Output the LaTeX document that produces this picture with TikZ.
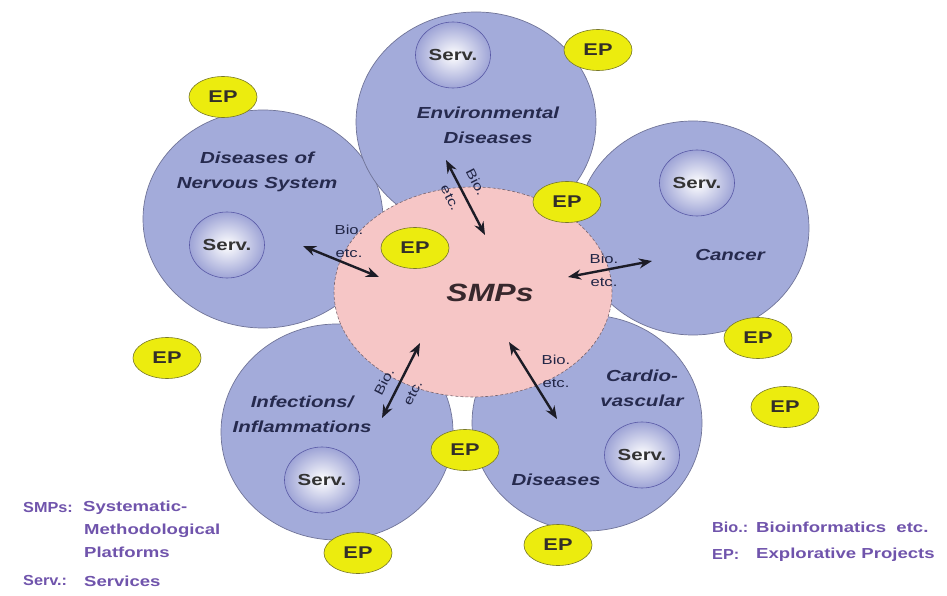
\documentclass[tikz,border=0pt]{standalone}
\usepackage{fontspec}
\setmainfont{Liberation Sans}
\usepackage{graphicx}
\usetikzlibrary{shapes.geometric,arrows.meta}
\definecolor{discol}{RGB}{163,171,218}
\definecolor{disline}{RGB}{112,116,152}
\definecolor{smpcol}{RGB}{246,198,198}
\definecolor{smpline}{RGB}{120,100,110}
\definecolor{epcol}{RGB}{236,236,14}
\definecolor{epline}{RGB}{120,120,40}
\definecolor{navy}{RGB}{38,42,78}
\definecolor{servout}{RGB}{158,164,214}
\definecolor{legcol}{RGB}{112,84,172}
\definecolor{arrcol}{RGB}{28,28,38}
\definecolor{smptext}{RGB}{55,40,45}
\newcommand{\wideT}[1]{\scalebox{1.28}[1]{#1}}
\newcommand{\wideS}[1]{\scalebox{1.12}[1]{#1}}
\begin{document}
\begin{tikzpicture}[x=1pt,y=-1pt,
  disease/.style={ellipse, draw=disline, line width=0.7pt, fill=discol, inner sep=0pt},
  smp/.style={ellipse, draw=smpline, densely dashed, line width=0.6pt, fill=smpcol, inner sep=0pt},
  serv/.style={ellipse, draw=gray!70!blue, line width=0.6pt, inner color=white, outer color=servout,
    minimum width=75pt, minimum height=66pt, inner sep=0pt,
    font=\fontsize{16}{18}\selectfont\bfseries, text=black!80},
  ep/.style={ellipse, draw=epline, line width=0.6pt, fill=epcol, minimum width=68pt, minimum height=41pt,
    inner sep=0pt, font=\fontsize{17}{19}\selectfont\bfseries, text=black!85!olive},
  lbl/.style={font=\fontsize{16}{25}\selectfont\bfseries\itshape, text=navy, align=center},
  bio/.style={font=\fontsize{13}{23}\selectfont, text=navy!90!black, align=center, inner sep=0pt},
  dbl/.style={{Stealth[length=13pt,width=10pt]}-{Stealth[length=13pt,width=10pt]}, line width=2.4pt, draw=arrcol},
  leg/.style={font=\fontsize{14.5}{16}\selectfont\bfseries, text=legcol, anchor=west, inner sep=0pt}
]
\fill[white] (0,0) rectangle (947,596);
\useasboundingbox (0,0) rectangle (947,596);

% disease circles
\node[disease, minimum width=230pt, minimum height=216pt] (card) at (587,423) {};
\node[disease, minimum width=232pt, minimum height=216pt] (inf) at (337,432) {};
\node[disease, minimum width=240pt, minimum height=218pt] (nerv) at (263,219) {};
\node[disease, minimum width=240pt, minimum height=220pt] (env) at (476,122) {};
\node[disease, minimum width=232pt, minimum height=214pt] (canc) at (693,228) {};
% central platform
\node[smp, minimum width=278pt, minimum height=210pt] (smps) at (473,292) {};

% labels
\node[lbl] (envl) at (488,125) {\wideT{Environmental}\\\wideT{Diseases}};
\node[lbl] (nervl) at (257,172) {\wideT{Diseases of}\\\wideT{Nervous System}};
\node[lbl] (cancl) at (730,255) {\wideT{Cancer}};
\node[lbl] (infl) at (302,414) {\wideT{Infections/}\\\wideT{Inflammations}};
\node[lbl] (cardl) at (642,388) {\wideT{Cardio-}\\\wideT{vascular}};
\node[lbl] (cardl2) at (556,480) {\wideT{Diseases}};
\node[font=\fontsize{25}{28}\selectfont\bfseries\itshape, text=smptext] (smpl) at (490,293) {\wideT{SMPs}};

% services
\node[serv] (s1) at (453,55) {\wideT{Serv.}};
\node[serv] (s2) at (227,245) {\wideT{Serv.}};
\node[serv] (s3) at (697,183) {\wideT{Serv.}};
\node[serv] (s4) at (322,480) {\wideT{Serv.}};
\node[serv] (s5) at (642,455) {\wideT{Serv.}};

% explorative projects
\node[ep] (e1) at (598,50) {\wideT{EP}};
\node[ep] (e2) at (223,97) {\wideT{EP}};
\node[ep] (e3) at (567,202) {\wideT{EP}};
\node[ep] (e4) at (415,248) {\wideT{EP}};
\node[ep] (e5) at (167,358) {\wideT{EP}};
\node[ep] (e6) at (758,338) {\wideT{EP}};
\node[ep] (e7) at (785,407) {\wideT{EP}};
\node[ep] (e8) at (465,450) {\wideT{EP}};
\node[ep] (e9) at (358,553) {\wideT{EP}};
\node[ep] (e10) at (558,545) {\wideT{EP}};

% arrows
\coordinate (a1s) at (446,160); \coordinate (a1e) at (485,235);
\coordinate (a2s) at (303,246); \coordinate (a2e) at (379,277);
\coordinate (a3s) at (568,277); \coordinate (a3e) at (652,261);
\coordinate (a4s) at (420,343); \coordinate (a4e) at (382,418);
\coordinate (a5s) at (509,342); \coordinate (a5e) at (557,419);
\draw[dbl] (a1s) -- (a1e);
\draw[dbl] (a2s) -- (a2e);
\draw[dbl] (a3s) -- (a3e);
\draw[dbl] (a4s) -- (a4e);
\draw[dbl] (a5s) -- (a5e);

\node[bio, rotate=-63] (b1a) at (476,182) {\wideT{Bio.}};
\node[bio, rotate=-63] (b1b) at (450,198) {\wideT{etc.}};
\node[bio] (b2) at (349,241) {\wideT{Bio.}\\\wideT{etc.}};
\node[bio] (b3) at (604,270) {\wideT{Bio.}\\\wideT{etc.}};
\node[bio, rotate=63] (b4a) at (384,382) {\wideT{Bio.}};
\node[bio, rotate=63] (b4b) at (413,393) {\wideT{etc.}};
\node[bio] (b5) at (556,371) {\wideT{Bio.}\\\wideT{etc.}};

% legend
\node[leg] (l1) at (23,508) {\wideS{SMPs:}};
\node[leg] (l2) at (83,508) {\wideT{Systematic-}};
\node[leg] (l3) at (84,531) {\wideT{Methodological}};
\node[leg] (l4) at (84,552) {\wideT{Platforms}};
\node[leg] (l5) at (23,581) {\wideS{Serv.:}};
\node[leg] (l6) at (84,581) {\wideT{Services}};
\node[leg] (r1) at (712,527) {\wideS{Bio.:}};
\node[leg] (r2) at (756,527) {\wideT{Bioinformatics\ \ etc.}};
\node[leg] (r3) at (712,555) {\wideS{EP:}};
\node[leg] (r4) at (756,555) {\wideT{Explorative Projects}};
\end{tikzpicture}
\end{document}
